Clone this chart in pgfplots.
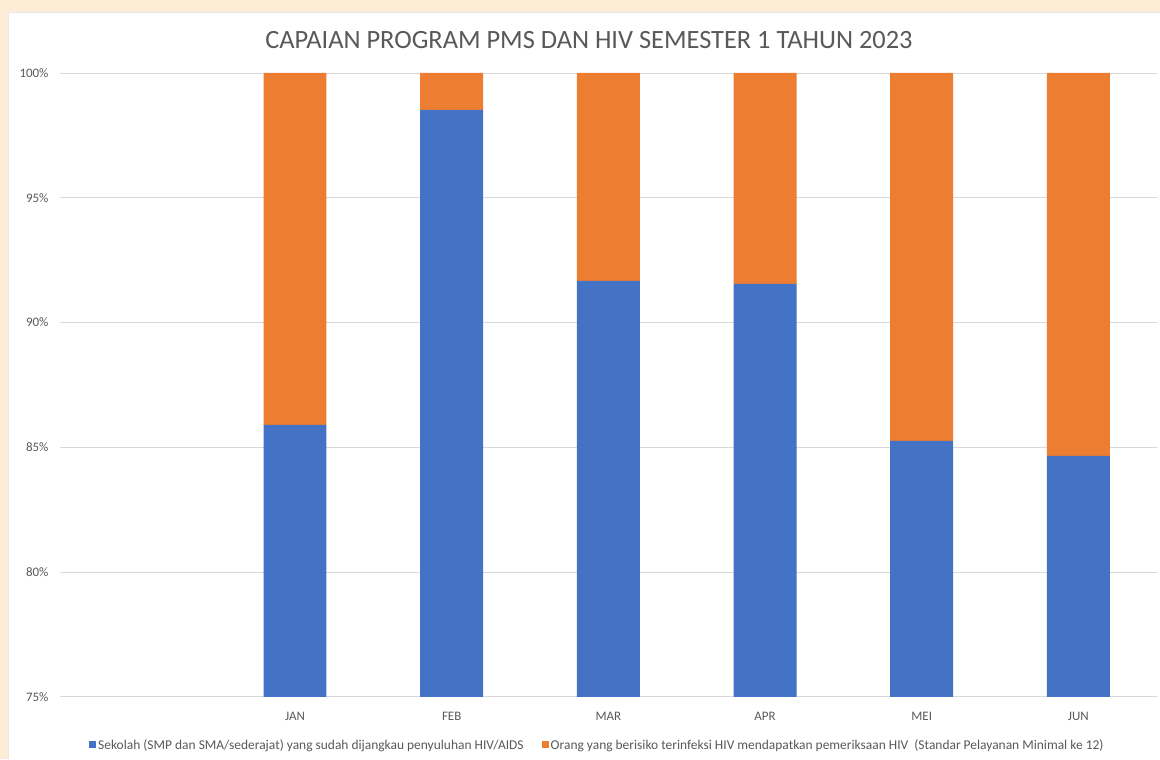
\documentclass[border=0pt]{standalone}
\usepackage{fontspec}
\setmainfont{Carlito}
\usepackage{pgfplots}
\pgfplotsset{compat=1.18}
\definecolor{xblue}{HTML}{4472C4}
\definecolor{xorange}{HTML}{ED7D31}
\definecolor{xgrid}{HTML}{D9D9D9}
\definecolor{xtext}{HTML}{595959}
\definecolor{cream}{HTML}{FDEDD6}
\begin{document}
\begin{tikzpicture}
\fill[cream] (0,0) rectangle (1160bp,759bp);
\fill[white] (8bp,0) rectangle (1160bp,747bp);
\draw[xgrid!60] (8bp,0) -- (8bp,747bp) -- (1160bp,747bp);
\node[text=xtext, font=\fontsize{26.5}{30}\selectfont] at (589bp,719bp) {CAPAIAN PROGRAM PMS DAN HIV SEMESTER 1 TAHUN 2023};
\begin{axis}[
  at={(60bp,62bp)}, anchor=south west,
  width=1097bp, height=624bp, scale only axis,
  ybar stacked, bar width=63bp,
  xmin=-0.5, xmax=6.5, ymin=75, ymax=100,
  xtick={1,2,3,4,5,6},
  xticklabels={JAN,FEB,MAR,APR,MEI,JUN},
  ytick={75,80,85,90,95,100},
  yticklabel={\pgfmathprintnumber{\tick}\%},
  /pgf/number format/assume math mode=true,
  ymajorgrids, grid style={xgrid, line width=0.8pt},
  axis line style={draw=none},
  major tick style={draw=none},
  tick label style={text=xtext, font=\fontsize{13}{15}\selectfont},
  yticklabel style={xshift=-8bp},
  xticklabel style={yshift=-12bp},
  legend style={at={(0.5,0)}, anchor=center, yshift=-48bp, xshift=-11bp, draw=none, fill=none,
    legend columns=2, font=\fontsize{13.5}{16}\selectfont, text=xtext,
    /tikz/every even column/.append style={column sep=16bp},
    legend cell align=left},
  legend image code/.code={\fill[#1] (0bp,-3.5bp) rectangle (7bp,3.5bp);},
]
\addplot[fill=xblue, draw=none] coordinates {(1,85.9) (2,98.52) (3,91.67) (4,91.55) (5,85.26) (6,84.66)};
\addplot[fill=xorange, draw=none] coordinates {(1,14.1) (2,1.48) (3,8.33) (4,8.45) (5,14.74) (6,15.34)};
\legend{Sekolah (SMP dan SMA/sederajat) yang sudah dijangkau penyuluhan HIV/AIDS, Orang yang berisiko terinfeksi HIV mendapatkan pemeriksaan HIV~ (Standar Pelayanan Minimal ke 12)}
\end{axis}
\end{tikzpicture}
\end{document}
